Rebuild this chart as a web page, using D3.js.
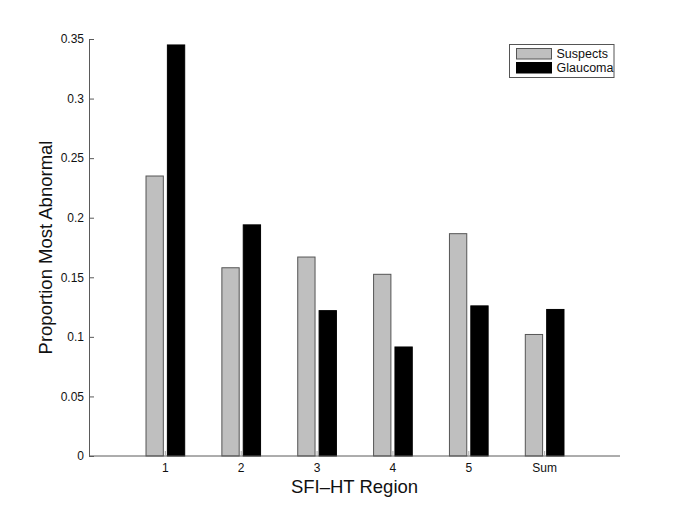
<!DOCTYPE html>
<html>
<head>
<meta charset="utf-8">
<script src="https://cdn.jsdelivr.net/npm/d3@7"></script>
<style>
  body { margin: 0; background: #fff; }
  svg { font-family: "Liberation Sans", Arial, Helvetica, sans-serif; }
</style>
</head>
<body>
<svg id="chart" width="685" height="514"></svg>
<script>
"use strict"

// values
const regions  = ["1", "2", "3", "4", "5", "Sum"]
const series   = ["Suspects", "Glaucoma"]
const suspects = [0.235, 0.158, 0.167, 0.1525, 0.1866, 0.102]
const glaucoma = [0.345, 0.194, 0.122, 0.0915, 0.126, 0.123]
const yTicks   = [0, 0.05, 0.1, 0.15, 0.2, 0.25, 0.3, 0.35]
const colors   = { Suspects: "#bfbfbf", Glaucoma: "#000000" }
const strokes  = { Suspects: "#555555", Glaucoma: "#000000" }

const svg = d3.select("#chart")
const margin = { left: 89, right: 65, top: 39, bottom: 58 }
const W = 685, H = 514
const axisColor = "#5a5a5a"

const x = d3.scaleLinear().domain([0, regions.length + 1]).range([margin.left, W - margin.right])
const y = d3.scaleLinear().domain([0, 0.35]).range([H - margin.bottom, margin.top])

const unit = x(1) - x(0)
const sub = d3.scaleBand().domain(series).range([-0.255 * unit, 0.255 * unit]).paddingInner(0.19)

const rows = regions.map((r, i) => ({ region: r, pos: i + 1, Suspects: suspects[i], Glaucoma: glaucoma[i] }))

// bars
const groups = svg.append("g").attr("class", "bars")
  .selectAll("g").data(rows).join("g")
  .attr("transform", d => `translate(${x(d.pos)},0)`)

groups.selectAll("rect")
  .data(d => series.map(s => ({ key: s, value: d[s] })))
  .join("rect")
  .attr("x", d => sub(d.key) + 0.5)
  .attr("width", sub.bandwidth())
  .attr("y", d => y(d.value))
  .attr("height", d => y(0) - y(d.value))
  .attr("fill", d => colors[d.key])
  .attr("stroke", d => strokes[d.key])
  .attr("stroke-width", 1)

// y axis (ticks point inward, like matlab)
const yAxis = svg.append("g")
  .attr("transform", `translate(${margin.left},0)`)
  .call(d3.axisLeft(y).tickValues(yTicks).tickSize(-5).tickPadding(5).tickFormat(d3.format("~g")))
yAxis.select(".domain").attr("stroke", axisColor)
yAxis.selectAll(".tick line").attr("stroke", axisColor)
yAxis.selectAll(".tick text").attr("font-size", 12).attr("fill", "#111")
  .attr("font-family", "Liberation Sans, Arial, sans-serif")

// x axis
const xAxis = svg.append("g")
  .attr("transform", `translate(0,${y(0)})`)
  .call(d3.axisBottom(x).tickValues(rows.map(d => d.pos)).tickSize(-5).tickPadding(7)
    .tickFormat((d, i) => regions[i]))
xAxis.select(".domain").attr("stroke", axisColor).attr("d", `M${x(0)},0H${x(regions.length + 1)}`)
xAxis.selectAll(".tick line").attr("stroke", "#aaa")
xAxis.selectAll(".tick text").attr("font-size", 12).attr("fill", "#111")
  .attr("font-family", "Liberation Sans, Arial, sans-serif")

// axis titles
svg.append("text")
  .attr("x", (x(0) + x(regions.length + 1)) / 2)
  .attr("y", 493)
  .attr("text-anchor", "middle")
  .attr("font-size", 18.5)
  .attr("fill", "#111")
  .text("SFI–HT Region")

svg.append("text")
  .attr("transform", `translate(52,${(y(0) + y(0.35)) / 2}) rotate(-90)`)
  .attr("text-anchor", "middle")
  .attr("font-size", 18.5)
  .attr("fill", "#111")
  .text("Proportion Most Abnormal")

// legend
const legend = svg.append("g").attr("transform", "translate(509.5,44.5)")
legend.append("rect")
  .attr("width", 104.5).attr("height", 33)
  .attr("fill", "#fff").attr("stroke", "#555")
series.forEach((s, i) => {
  const row = legend.append("g").attr("transform", `translate(0,${4 + i * 14})`)
  row.append("rect")
    .attr("x", 7).attr("width", 35).attr("height", 10.5)
    .attr("fill", colors[s]).attr("stroke", strokes[s])
  row.append("text")
    .attr("x", 47).attr("y", 9.5)
    .attr("font-size", 12.5)
    .attr("fill", "#111")
    .text(s)
})
</script>
</body>
</html>
